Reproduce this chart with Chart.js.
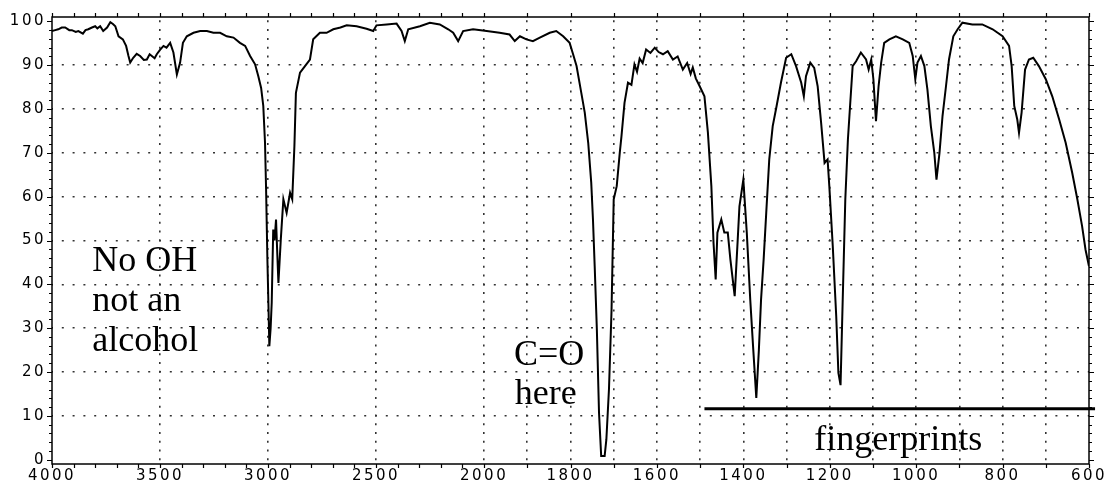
<!DOCTYPE html>
<html>
<head>
<meta charset="utf-8">
<script src="https://cdn.jsdelivr.net/npm/chart.js@4.4.0/dist/chart.umd.min.js"></script>
<style>
  body { margin: 0; background: #fff; }
  #wrap { width: 1110px; height: 485px; position: relative; }
</style>
</head>
<body>
<div id="wrap"><canvas id="irChart"></canvas></div>
<script>
// wavenumber (cm-1) / %T pairs
const wavenumbers = [
    4000, 3985, 3971, 3955, 3939, 3920, 3908, 3890, 3878, 3857, 3845, 3832, 3815, 3800, 3790, 3777, 3763, 3745,
    3730, 3718, 3707, 3692, 3672, 3657, 3646, 3638, 3624, 3608, 3592, 3575, 3561, 3548, 3538, 3525, 3515, 3500,
    3484, 3470, 3453, 3438, 3422, 3407, 3394, 3376, 3345, 3314, 3283, 3253, 3222, 3191, 3160, 3130, 3106, 3083,
    3060, 3045, 3032, 3022, 3014, 3009, 3003, 2998, 2994, 2988, 2983, 2976, 2970, 2963, 2958, 2952, 2941, 2929,
    2914, 2898, 2888, 2878, 2871, 2852, 2829, 2806, 2791, 2760, 2729, 2698, 2665, 2636, 2590, 2544, 2513, 2498,
    2451, 2405, 2382, 2367, 2351, 2297, 2251, 2205, 2166, 2143, 2120, 2097, 2051, 1994, 1964, 1941, 1929, 1917,
    1902, 1887, 1871, 1848, 1833, 1817, 1802, 1794, 1786, 1775, 1767, 1759, 1752, 1748, 1744, 1739, 1734, 1729,
    1721, 1717, 1711, 1705, 1700, 1693, 1686, 1682, 1675, 1667, 1659, 1652, 1646, 1640, 1633, 1625, 1615, 1605,
    1596, 1586, 1575, 1563, 1552, 1540, 1530, 1522, 1517, 1510, 1501, 1490, 1482, 1474, 1469, 1464, 1460, 1451,
    1444, 1436, 1430, 1420, 1413, 1409, 1400, 1392, 1384, 1377, 1370, 1364, 1359, 1353, 1347, 1340, 1332, 1323,
    1313, 1301, 1289, 1278, 1266, 1260, 1255, 1245, 1236, 1228, 1220, 1212, 1205, 1201, 1193, 1185, 1180, 1175,
    1170, 1164, 1158, 1153, 1147, 1139, 1128, 1116, 1110, 1104, 1099, 1093, 1087, 1081, 1074, 1062, 1047, 1031,
    1016, 1008, 1002, 997, 989, 981, 974, 966, 958, 953, 946, 939, 931, 924, 914, 904, 893, 870, 847, 823,
    800, 785, 779, 773, 766, 762, 756, 748, 739, 729, 716, 700, 685, 669, 654, 639, 627, 616, 608, 600
];
const transmittance = [
    97.8, 98.0, 98.2, 98.6, 98.6, 98.0, 98.0, 97.6, 97.8, 97.2, 98.0, 98.2, 98.6, 98.9, 98.4, 98.9, 97.8, 98.6,
    99.8, 99.4, 98.9, 96.6, 95.9, 94.4, 92.1, 90.6, 91.7, 92.6, 92.1, 91.2, 91.3, 92.5, 92.1, 91.6, 92.5, 93.5,
    94.4, 94.0, 95.1, 92.9, 87.9, 90.6, 95.1, 96.6, 97.4, 97.8, 97.8, 97.4, 97.4, 96.6, 96.3, 95.1, 94.4, 92.1,
    90.2, 87.5, 84.8, 80.7, 72.3, 61.6, 45.7, 35.0, 25.9, 30.0, 35.8, 52.5, 50.0, 54.8, 48.0, 40.3, 50.2, 59.4,
    56.3, 60.9, 59.4, 71.5, 83.7, 88.3, 89.8, 91.3, 95.9, 97.4, 97.4, 98.2, 98.6, 99.1, 98.9, 98.3, 97.8, 99.1,
    99.3, 99.5, 97.8, 95.5, 98.2, 98.9, 99.7, 99.3, 98.2, 97.4, 95.5, 97.8, 98.2, 97.8, 97.4, 97.0, 95.5, 96.6,
    95.9, 95.5, 96.3, 97.4, 97.8, 96.6, 95.1, 92.5, 89.8, 83.7, 79.2, 72.3, 63.2, 54.8, 44.1, 29.7, 10.7, 0.8,
    0.8, 4.6, 16.0, 34.2, 59.4, 62.4, 70.0, 73.8, 81.4, 86.0, 85.5, 90.2, 88.5, 91.5, 90.5, 93.6, 92.8, 94.0,
    93.0, 92.5, 93.2, 91.3, 92.0, 89.0, 90.5, 88.0, 89.5, 87.0, 85.2, 82.9, 74.6, 62.4, 49.5, 41.1, 51.8, 54.8,
    51.8, 51.8, 45.7, 37.3, 50.2, 57.8, 63.9, 51.8, 36.5, 25.1, 14.1, 25.1, 36.5, 45.7, 56.3, 68.5, 76.1, 80.7,
    86.0, 91.7, 92.5, 89.8, 86.0, 82.9, 87.5, 90.6, 89.4, 85.2, 76.9, 67.7, 68.5, 62.4, 48.7, 32.7, 19.8, 17.0,
    36.5, 59.4, 73.0, 80.7, 89.8, 90.9, 92.9, 91.3, 89.0, 91.3, 86.8, 77.2, 85.2, 90.6, 95.1, 95.9, 96.6, 95.9,
    95.1, 92.1, 86.8, 90.6, 92.1, 89.8, 84.5, 76.1, 70.0, 63.9, 70.0, 78.4, 85.2, 91.3, 96.6, 98.2, 99.7, 99.3, 99.3, 98.2,
    96.6, 94.4, 89.8, 80.7, 77.6, 74.6, 79.2, 89.0, 91.3, 91.7, 89.8, 86.8, 82.9, 77.6, 72.3, 65.5, 59.4, 53.3, 47.9, 44.1
];

const xLabels = [4000, 3500, 3000, 2500, 2000, 1800, 1600, 1400, 1200, 1000, 800, 600];
const xGrid = [3500, 3000, 2500, 2000, 1900, 1800, 1700, 1600, 1500, 1400, 1300, 1200, 1100, 1000, 900, 800, 700];
const yLabels = [0, 10, 20, 30, 40, 50, 60, 70, 80, 90, 100];

// bar under the fingerprint region
const fingerprintFrom = 1490, fingerprintTo = 586, fingerprintLevel = 11.6;

const notes = [
    { text: "No OH", wn: 3814, t: 43.0 },
    { text: "not an", wn: 3814, t: 33.9 },
    { text: "alcohol", wn: 3814, t: 24.7 },
    { text: "C=O", wn: 1931, t: 21.7 },
    { text: "here", wn: 1929, t: 12.6 },
    { text: "fingerprints", wn: 1236, t: 2.3 }
];

// axis scale halves below 2000 cm-1
const toAxis = function(wn) {
    return wn >= 2000 ? (4000 - wn) / 2 : 1000 + (2000 - wn);
}
const fromAxis = function(u) {
    return u <= 1000 ? 4000 - 2 * u : 2000 - (u - 1000);
}

let xTicks = [];
for (let wn = 4000; wn >= 600; wn -= 100) xTicks.push(wn);
let yTicks = [];
for (let v = 0; v <= 100; v += 2) yTicks.push(v);

const spectrum = wavenumbers.map((wn, i) => ({ x: toAxis(wn), y: transmittance[i] }));
const fpLine = [
    { x: toAxis(fingerprintFrom), y: fingerprintLevel },
    { x: toAxis(fingerprintTo), y: fingerprintLevel }
];

// frame + outward tick marks like the old plotter output
const framePlugin = {
    id: 'frame',
    beforeDraw: function(chart) {
        chart.ctx.letterSpacing = '2.5px';
    },
    afterDraw: function(chart) {
        const ctx = chart.ctx, a = chart.chartArea;
        const xs = chart.scales.x, ys = chart.scales.y;
        ctx.save();
        ctx.letterSpacing = '0px';
        ctx.setLineDash([]);
        ctx.strokeStyle = '#000';
        ctx.lineWidth = 1.5;
        ctx.strokeRect(a.left, a.top, a.right - a.left, a.bottom - a.top);
        ctx.lineWidth = 1.2;
        ctx.beginPath();
        xTicks.forEach(wn => {
            const px = Math.round(xs.getPixelForValue(toAxis(wn))) + 0.5;
            ctx.moveTo(px, a.bottom); ctx.lineTo(px, a.bottom + 4);
            ctx.moveTo(px, a.top); ctx.lineTo(px, a.top - 4);
        });
        yTicks.forEach(v => {
            const py = Math.round(ys.getPixelForValue(v)) + 0.5;
            const len = v % 10 === 0 ? 5 : 3;
            ctx.moveTo(a.left, py); ctx.lineTo(a.left - len, py);
            ctx.moveTo(a.right, py); ctx.lineTo(a.right + len, py);
        });
        ctx.stroke();

        ctx.fillStyle = '#000';
        ctx.font = '36px "Liberation Serif", "Times New Roman", serif';
        ctx.textBaseline = 'alphabetic';
        ctx.textAlign = 'left';
        notes.forEach(n => {
            ctx.fillText(n.text, xs.getPixelForValue(toAxis(n.wn)), ys.getPixelForValue(n.t));
        });
        ctx.restore();
    }
};

const makeChart = function() {
    const ctx = document.getElementById('irChart').getContext('2d');
    new Chart(ctx, {
        type: 'line',
        data: {
            datasets: [{
                data: spectrum,
                borderColor: '#000',
                borderWidth: 2,
                pointRadius: 0,
                tension: 0,
                fill: false
            }, {
                data: fpLine,
                borderColor: '#000',
                borderWidth: 3,
                pointRadius: 0,
                clip: false
            }]
        },
        options: {
            responsive: true,
            maintainAspectRatio: false,
            animation: false,
            layout: { padding: { top: 17, right: 21, left: 0, bottom: 0 } },
            plugins: { legend: { display: false }, tooltip: { enabled: false } },
            scales: {
                x: {
                    type: 'linear',
                    min: 0,
                    max: 2400,
                    afterBuildTicks: function(scale) {
                        scale.ticks = xTicks.map(wn => ({ value: toAxis(wn) }));
                    },
                    afterFit: function(scale) { scale.height = 21; },
                    // in v4 the grid line dash lives on border
                    border: { display: false, dash: [2, 6.76], dashOffset: 5.4 },
                    grid: {
                        drawTicks: false,
                        lineWidth: 1.6,
                        color: function(c) {
                            const wn = Math.round(fromAxis(c.tick.value));
                            return xGrid.includes(wn) ? '#333' : 'rgba(0,0,0,0)';
                        }
                    },
                    ticks: {
                        autoSkip: false,
                        maxRotation: 0,
                        minRotation: 0,
                        padding: 3,
                        color: '#000',
                        font: { family: 'DejaVu Sans', size: 15 },
                        callback: function(value) {
                            const wn = Math.round(fromAxis(value));
                            return xLabels.includes(wn) ? String(wn) : '';
                        }
                    }
                },
                y: {
                    min: -1,
                    max: 101,
                    afterBuildTicks: function(scale) {
                        scale.ticks = yTicks.map(v => ({ value: v }));
                    },
                    afterFit: function(scale) { scale.width = 52; },
                    border: { display: false, dash: [2, 8.8], dashOffset: 1 },
                    grid: {
                        drawTicks: false,
                        lineWidth: 1.6,
                        color: function(c) {
                            const v = c.tick.value;
                            return (v % 10 === 0 && v > 0 && v < 100) ? '#333' : 'rgba(0,0,0,0)';
                        }
                    },
                    ticks: {
                        autoSkip: false,
                        padding: 6,
                        color: '#000',
                        font: { family: 'DejaVu Sans', size: 15 },
                        callback: function(value) {
                            return yLabels.includes(value) ? String(value) : '';
                        }
                    }
                }
            }
        },
        plugins: [framePlugin]
    });
}
makeChart();
</script>
</body>
</html>
